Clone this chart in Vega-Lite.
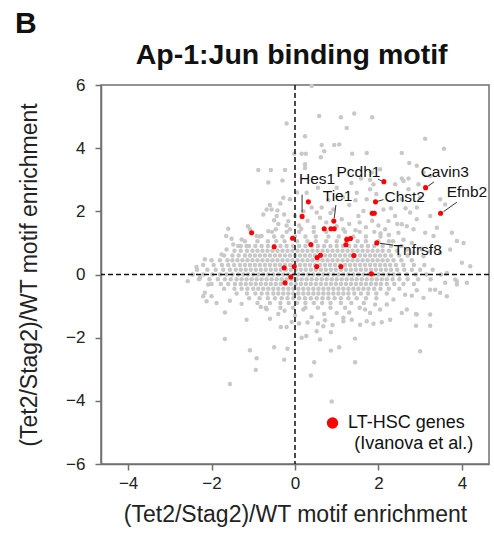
{
"$schema":"https://vega.github.io/schema/vega-lite/v6.json",
"width":388,"height":379,
"autosize":{"type":"none"},
"padding":{"left":101,"top":85,"right":5,"bottom":75},
"background":"white",
"data":{"values":[{}]},
"config":{"view":{"stroke":"#707070","strokeWidth":1.5},
"axis":{"grid":false,"domainColor":"#707070","domainWidth":1.5,"tickColor":"#707070","tickWidth":1.5,"tickSize":6,"labelFont":"Liberation Sans","labelFontSize":17,"labelColor":"#222222","titleFont":"Liberation Sans","titleFontSize":23,"titleFontWeight":"normal","titleColor":"#222222"},
"text":{"font":"Liberation Sans"}},
"datasets":{
"gray":[
{"x":-0.55,"y":1.35},{"x":-0.2,"y":1.35},{"x":0.1,"y":1.35},{"x":0.45,"y":1.35},{"x":0.75,"y":1.35},{"x":1.2,"y":1.35},{"x":1.55,"y":1.35},{"x":1.9,"y":1.35},
{"x":-0.85,"y":1.2},{"x":-0.5,"y":1.2},{"x":-0.3,"y":1.2},{"x":0.0,"y":1.2},{"x":0.25,"y":1.2},{"x":0.5,"y":1.2},{"x":0.8,"y":1.2},{"x":1.05,"y":1.2},{"x":1.4,"y":1.2},{"x":1.7,"y":1.2},{"x":2.05,"y":1.2},
{"x":-1.2,"y":1.05},{"x":-0.9,"y":1.05},{"x":-0.65,"y":1.05},{"x":-0.45,"y":1.05},{"x":-0.25,"y":1.05},{"x":0.05,"y":1.05},{"x":0.3,"y":1.05},{"x":0.5,"y":1.05},{"x":0.75,"y":1.05},{"x":1.0,"y":1.05},{"x":1.25,"y":1.05},{"x":1.5,"y":1.05},{"x":1.7,"y":1.05},{"x":2.0,"y":1.05},{"x":2.25,"y":1.05},
{"x":-1.3,"y":0.9},{"x":-1.1,"y":0.9},{"x":-0.95,"y":0.9},{"x":-0.8,"y":0.9},{"x":-0.65,"y":0.9},{"x":-0.5,"y":0.9},{"x":-0.35,"y":0.9},{"x":-0.2,"y":0.9},{"x":-0.05,"y":0.9},{"x":0.1,"y":0.9},{"x":0.25,"y":0.9},{"x":0.4,"y":0.9},{"x":0.55,"y":0.9},{"x":0.7,"y":0.9},{"x":0.85,"y":0.9},{"x":1.0,"y":0.9},{"x":1.15,"y":0.9},{"x":1.3,"y":0.9},{"x":1.45,"y":0.9},{"x":1.6,"y":0.9},{"x":1.75,"y":0.9},{"x":1.9,"y":0.9},{"x":2.1,"y":0.9},{"x":2.3,"y":0.9},
{"x":-1.45,"y":0.75},{"x":-1.3,"y":0.75},{"x":-1.15,"y":0.75},{"x":-1.02,"y":0.75},{"x":-0.9,"y":0.75},{"x":-0.78,"y":0.75},{"x":-0.66,"y":0.75},{"x":-0.54,"y":0.75},{"x":-0.42,"y":0.75},{"x":-0.3,"y":0.75},{"x":-0.18,"y":0.75},{"x":-0.06,"y":0.75},{"x":0.06,"y":0.75},{"x":0.18,"y":0.75},{"x":0.3,"y":0.75},{"x":0.42,"y":0.75},{"x":0.54,"y":0.75},{"x":0.66,"y":0.75},{"x":0.78,"y":0.75},{"x":0.9,"y":0.75},{"x":1.02,"y":0.75},{"x":1.14,"y":0.75},{"x":1.26,"y":0.75},{"x":1.38,"y":0.75},{"x":1.5,"y":0.75},{"x":1.62,"y":0.75},{"x":1.74,"y":0.75},{"x":1.86,"y":0.75},{"x":1.98,"y":0.75},{"x":2.1,"y":0.75},{"x":2.25,"y":0.75},{"x":2.45,"y":0.75},
{"x":-1.7,"y":0.6},{"x":-1.5,"y":0.6},{"x":-1.35,"y":0.6},{"x":-1.2,"y":0.6},{"x":-1.08,"y":0.6},{"x":-0.96,"y":0.6},{"x":-0.84,"y":0.6},{"x":-0.72,"y":0.6},{"x":-0.6,"y":0.6},{"x":-0.48,"y":0.6},{"x":-0.36,"y":0.6},{"x":-0.24,"y":0.6},{"x":-0.12,"y":0.6},{"x":0.0,"y":0.6},{"x":0.12,"y":0.6},{"x":0.24,"y":0.6},{"x":0.36,"y":0.6},{"x":0.48,"y":0.6},{"x":0.6,"y":0.6},{"x":0.72,"y":0.6},{"x":0.84,"y":0.6},{"x":0.96,"y":0.6},{"x":1.08,"y":0.6},{"x":1.2,"y":0.6},{"x":1.32,"y":0.6},{"x":1.44,"y":0.6},{"x":1.56,"y":0.6},{"x":1.68,"y":0.6},{"x":1.8,"y":0.6},{"x":1.92,"y":0.6},{"x":2.04,"y":0.6},{"x":2.16,"y":0.6},{"x":2.3,"y":0.6},{"x":2.5,"y":0.6},{"x":2.7,"y":0.6},
{"x":-2.0,"y":0.45},{"x":-1.8,"y":0.45},{"x":-1.62,"y":0.45},{"x":-1.5,"y":0.45},{"x":-1.38,"y":0.45},{"x":-1.26,"y":0.45},{"x":-1.14,"y":0.45},{"x":-1.02,"y":0.45},{"x":-0.9,"y":0.45},{"x":-0.78,"y":0.45},{"x":-0.66,"y":0.45},{"x":-0.54,"y":0.45},{"x":-0.42,"y":0.45},{"x":-0.3,"y":0.45},{"x":-0.18,"y":0.45},{"x":-0.06,"y":0.45},{"x":0.06,"y":0.45},{"x":0.18,"y":0.45},{"x":0.3,"y":0.45},{"x":0.42,"y":0.45},{"x":0.54,"y":0.45},{"x":0.66,"y":0.45},{"x":0.78,"y":0.45},{"x":0.9,"y":0.45},{"x":1.02,"y":0.45},{"x":1.14,"y":0.45},{"x":1.26,"y":0.45},{"x":1.38,"y":0.45},{"x":1.5,"y":0.45},{"x":1.62,"y":0.45},{"x":1.74,"y":0.45},{"x":1.86,"y":0.45},{"x":1.98,"y":0.45},{"x":2.1,"y":0.45},{"x":2.22,"y":0.45},{"x":2.36,"y":0.45},{"x":2.55,"y":0.45},{"x":2.8,"y":0.45},
{"x":-2.2,"y":0.3},{"x":-1.95,"y":0.3},{"x":-1.75,"y":0.3},{"x":-1.6,"y":0.3},{"x":-1.46,"y":0.3},{"x":-1.32,"y":0.3},{"x":-1.2,"y":0.3},{"x":-1.08,"y":0.3},{"x":-0.96,"y":0.3},{"x":-0.84,"y":0.3},{"x":-0.72,"y":0.3},{"x":-0.6,"y":0.3},{"x":-0.48,"y":0.3},{"x":-0.36,"y":0.3},{"x":-0.24,"y":0.3},{"x":-0.12,"y":0.3},{"x":0.0,"y":0.3},{"x":0.12,"y":0.3},{"x":0.24,"y":0.3},{"x":0.36,"y":0.3},{"x":0.48,"y":0.3},{"x":0.6,"y":0.3},{"x":0.72,"y":0.3},{"x":0.84,"y":0.3},{"x":0.96,"y":0.3},{"x":1.08,"y":0.3},{"x":1.2,"y":0.3},{"x":1.32,"y":0.3},{"x":1.44,"y":0.3},{"x":1.56,"y":0.3},{"x":1.68,"y":0.3},{"x":1.8,"y":0.3},{"x":1.92,"y":0.3},{"x":2.04,"y":0.3},{"x":2.16,"y":0.3},{"x":2.28,"y":0.3},{"x":2.42,"y":0.3},{"x":2.6,"y":0.3},{"x":2.85,"y":0.3},{"x":3.1,"y":0.3},
{"x":-2.35,"y":0.15},{"x":-2.1,"y":0.15},{"x":-1.9,"y":0.15},{"x":-1.72,"y":0.15},{"x":-1.56,"y":0.15},{"x":-1.42,"y":0.15},{"x":-1.3,"y":0.15},{"x":-1.18,"y":0.15},{"x":-1.06,"y":0.15},{"x":-0.94,"y":0.15},{"x":-0.82,"y":0.15},{"x":-0.7,"y":0.15},{"x":-0.58,"y":0.15},{"x":-0.46,"y":0.15},{"x":-0.34,"y":0.15},{"x":-0.22,"y":0.15},{"x":-0.1,"y":0.15},{"x":0.02,"y":0.15},{"x":0.14,"y":0.15},{"x":0.26,"y":0.15},{"x":0.38,"y":0.15},{"x":0.5,"y":0.15},{"x":0.62,"y":0.15},{"x":0.74,"y":0.15},{"x":0.86,"y":0.15},{"x":0.98,"y":0.15},{"x":1.1,"y":0.15},{"x":1.22,"y":0.15},{"x":1.34,"y":0.15},{"x":1.46,"y":0.15},{"x":1.58,"y":0.15},{"x":1.7,"y":0.15},{"x":1.82,"y":0.15},{"x":1.94,"y":0.15},{"x":2.06,"y":0.15},{"x":2.18,"y":0.15},{"x":2.3,"y":0.15},{"x":2.45,"y":0.15},{"x":2.62,"y":0.15},{"x":2.8,"y":0.15},{"x":3.0,"y":0.15},{"x":3.3,"y":0.15},
{"x":-2.45,"y":0.0},{"x":-2.2,"y":0.0},{"x":-1.98,"y":0.0},{"x":-1.8,"y":0.0},{"x":-1.64,"y":0.0},{"x":-1.5,"y":0.0},{"x":-1.36,"y":0.0},{"x":-1.24,"y":0.0},{"x":-1.12,"y":0.0},{"x":-1.0,"y":0.0},{"x":-0.88,"y":0.0},{"x":-0.76,"y":0.0},{"x":-0.64,"y":0.0},{"x":-0.52,"y":0.0},{"x":-0.4,"y":0.0},{"x":-0.28,"y":0.0},{"x":-0.16,"y":0.0},{"x":-0.04,"y":0.0},{"x":0.08,"y":0.0},{"x":0.2,"y":0.0},{"x":0.32,"y":0.0},{"x":0.44,"y":0.0},{"x":0.56,"y":0.0},{"x":0.68,"y":0.0},{"x":0.8,"y":0.0},{"x":0.92,"y":0.0},{"x":1.04,"y":0.0},{"x":1.16,"y":0.0},{"x":1.28,"y":0.0},{"x":1.4,"y":0.0},{"x":1.52,"y":0.0},{"x":1.64,"y":0.0},{"x":1.76,"y":0.0},{"x":1.88,"y":0.0},{"x":2.0,"y":0.0},{"x":2.12,"y":0.0},{"x":2.24,"y":0.0},{"x":2.36,"y":0.0},{"x":2.5,"y":0.0},{"x":2.68,"y":0.0},{"x":2.9,"y":0.0},{"x":3.15,"y":0.0},{"x":3.5,"y":0.0},
{"x":-2.3,"y":-0.15},{"x":-2.05,"y":-0.15},{"x":-1.85,"y":-0.15},{"x":-1.68,"y":-0.15},{"x":-1.54,"y":-0.15},{"x":-1.4,"y":-0.15},{"x":-1.28,"y":-0.15},{"x":-1.16,"y":-0.15},{"x":-1.04,"y":-0.15},{"x":-0.92,"y":-0.15},{"x":-0.8,"y":-0.15},{"x":-0.68,"y":-0.15},{"x":-0.56,"y":-0.15},{"x":-0.44,"y":-0.15},{"x":-0.32,"y":-0.15},{"x":-0.2,"y":-0.15},{"x":-0.08,"y":-0.15},{"x":0.04,"y":-0.15},{"x":0.16,"y":-0.15},{"x":0.28,"y":-0.15},{"x":0.4,"y":-0.15},{"x":0.52,"y":-0.15},{"x":0.64,"y":-0.15},{"x":0.76,"y":-0.15},{"x":0.88,"y":-0.15},{"x":1.0,"y":-0.15},{"x":1.12,"y":-0.15},{"x":1.24,"y":-0.15},{"x":1.36,"y":-0.15},{"x":1.48,"y":-0.15},{"x":1.6,"y":-0.15},{"x":1.72,"y":-0.15},{"x":1.84,"y":-0.15},{"x":1.96,"y":-0.15},{"x":2.08,"y":-0.15},{"x":2.2,"y":-0.15},{"x":2.34,"y":-0.15},{"x":2.5,"y":-0.15},{"x":2.7,"y":-0.15},{"x":2.95,"y":-0.15},{"x":3.25,"y":-0.15},
{"x":-2.0,"y":-0.3},{"x":-1.78,"y":-0.3},{"x":-1.6,"y":-0.3},{"x":-1.44,"y":-0.3},{"x":-1.3,"y":-0.3},{"x":-1.18,"y":-0.3},{"x":-1.06,"y":-0.3},{"x":-0.94,"y":-0.3},{"x":-0.82,"y":-0.3},{"x":-0.7,"y":-0.3},{"x":-0.58,"y":-0.3},{"x":-0.46,"y":-0.3},{"x":-0.34,"y":-0.3},{"x":-0.22,"y":-0.3},{"x":-0.1,"y":-0.3},{"x":0.02,"y":-0.3},{"x":0.14,"y":-0.3},{"x":0.26,"y":-0.3},{"x":0.38,"y":-0.3},{"x":0.5,"y":-0.3},{"x":0.62,"y":-0.3},{"x":0.74,"y":-0.3},{"x":0.86,"y":-0.3},{"x":0.98,"y":-0.3},{"x":1.1,"y":-0.3},{"x":1.22,"y":-0.3},{"x":1.34,"y":-0.3},{"x":1.46,"y":-0.3},{"x":1.58,"y":-0.3},{"x":1.7,"y":-0.3},{"x":1.82,"y":-0.3},{"x":1.94,"y":-0.3},{"x":2.06,"y":-0.3},{"x":2.2,"y":-0.3},{"x":2.38,"y":-0.3},{"x":2.6,"y":-0.3},{"x":2.85,"y":-0.3},
{"x":-1.7,"y":-0.45},{"x":-1.45,"y":-0.45},{"x":-1.28,"y":-0.45},{"x":-1.14,"y":-0.45},{"x":-1.0,"y":-0.45},{"x":-0.88,"y":-0.45},{"x":-0.76,"y":-0.45},{"x":-0.64,"y":-0.45},{"x":-0.52,"y":-0.45},{"x":-0.4,"y":-0.45},{"x":-0.28,"y":-0.45},{"x":-0.16,"y":-0.45},{"x":-0.04,"y":-0.45},{"x":0.08,"y":-0.45},{"x":0.2,"y":-0.45},{"x":0.32,"y":-0.45},{"x":0.44,"y":-0.45},{"x":0.56,"y":-0.45},{"x":0.68,"y":-0.45},{"x":0.8,"y":-0.45},{"x":0.92,"y":-0.45},{"x":1.04,"y":-0.45},{"x":1.16,"y":-0.45},{"x":1.28,"y":-0.45},{"x":1.4,"y":-0.45},{"x":1.52,"y":-0.45},{"x":1.64,"y":-0.45},{"x":1.76,"y":-0.45},{"x":1.9,"y":-0.45},{"x":2.05,"y":-0.45},{"x":2.25,"y":-0.45},{"x":2.5,"y":-0.45},
{"x":-1.4,"y":-0.6},{"x":-1.15,"y":-0.6},{"x":-0.95,"y":-0.6},{"x":-0.8,"y":-0.6},{"x":-0.66,"y":-0.6},{"x":-0.52,"y":-0.6},{"x":-0.4,"y":-0.6},{"x":-0.28,"y":-0.6},{"x":-0.16,"y":-0.6},{"x":-0.04,"y":-0.6},{"x":0.08,"y":-0.6},{"x":0.2,"y":-0.6},{"x":0.32,"y":-0.6},{"x":0.44,"y":-0.6},{"x":0.56,"y":-0.6},{"x":0.68,"y":-0.6},{"x":0.8,"y":-0.6},{"x":0.92,"y":-0.6},{"x":1.04,"y":-0.6},{"x":1.16,"y":-0.6},{"x":1.28,"y":-0.6},{"x":1.42,"y":-0.6},{"x":1.58,"y":-0.6},{"x":1.75,"y":-0.6},{"x":1.95,"y":-0.6},{"x":2.2,"y":-0.6},
{"x":-1.1,"y":-0.75},{"x":-0.85,"y":-0.75},{"x":-0.65,"y":-0.75},{"x":-0.48,"y":-0.75},{"x":-0.32,"y":-0.75},{"x":-0.18,"y":-0.75},{"x":-0.04,"y":-0.75},{"x":0.1,"y":-0.75},{"x":0.24,"y":-0.75},{"x":0.38,"y":-0.75},{"x":0.52,"y":-0.75},{"x":0.66,"y":-0.75},{"x":0.8,"y":-0.75},{"x":0.95,"y":-0.75},{"x":1.1,"y":-0.75},{"x":1.28,"y":-0.75},{"x":1.48,"y":-0.75},{"x":1.7,"y":-0.75},{"x":1.95,"y":-0.75},
{"x":-0.9,"y":-0.9},{"x":-0.6,"y":-0.9},{"x":-0.35,"y":-0.9},{"x":-0.15,"y":-0.9},{"x":0.05,"y":-0.9},{"x":0.25,"y":-0.9},{"x":0.45,"y":-0.9},{"x":0.65,"y":-0.9},{"x":0.85,"y":-0.9},{"x":1.1,"y":-0.9},{"x":1.35,"y":-0.9},{"x":1.65,"y":-0.9},
{"x":-0.7,"y":-1.05},{"x":-0.35,"y":-1.05},{"x":-0.05,"y":-1.05},{"x":0.25,"y":-1.05},{"x":0.55,"y":-1.05},{"x":0.85,"y":-1.05},{"x":1.2,"y":-1.05},{"x":1.55,"y":-1.05},
{"x":0.4,"y":5.97},{"x":0.58,"y":5.02},{"x":1.1,"y":4.98},{"x":1.42,"y":5.1},{"x":1.85,"y":4.98},{"x":1.24,"y":4.64},{"x":0.24,"y":4.38},{"x":0.64,"y":4.1},{"x":0.94,"y":4.1},{"x":1.06,"y":4.12},{"x":0.7,"y":3.9},{"x":0.16,"y":3.82},{"x":0.26,"y":3.82},{"x":0.62,"y":3.71},{"x":1.37,"y":3.82},{"x":1.72,"y":3.85},{"x":2.56,"y":3.85},{"x":3.12,"y":4.3},{"x":3.57,"y":3.98},{"x":2.74,"y":3.53},{"x":-0.02,"y":3.82},{"x":0.24,"y":3.37},{"x":2.56,"y":3.04},{"x":2.72,"y":3.04},{"x":1.58,"y":3.04},{"x":1.8,"y":3.0},
{"x":-0.2,"y":4.78},{"x":-0.88,"y":3.31},{"x":-0.58,"y":3.31},{"x":-0.24,"y":3.31},{"x":-0.64,"y":2.91},{"x":-0.3,"y":2.98},{"x":0.24,"y":3.49},
{"x":-0.12,"y":2.38},{"x":-0.28,"y":2.43},{"x":-0.68,"y":2.06},{"x":-0.56,"y":2.06},{"x":-0.42,"y":2.03},{"x":-0.76,"y":1.9},{"x":-0.44,"y":1.85},{"x":-0.26,"y":1.9},{"x":-0.16,"y":1.69},{"x":-0.12,"y":1.43},
{"x":0.28,"y":2.59},{"x":0.4,"y":2.12},{"x":0.52,"y":1.96},{"x":0.64,"y":2.12},{"x":0.92,"y":2.06},{"x":1.0,"y":1.53},{"x":1.16,"y":1.43},{"x":1.12,"y":1.75},{"x":1.24,"y":1.16},
{"x":-1.08,"y":1.43},{"x":-1.6,"y":1.45},{"x":-1.52,"y":1.13},{"x":-1.28,"y":1.11},{"x":-1.16,"y":0.9},{"x":-1.36,"y":0.9},{"x":-1.48,"y":0.95},{"x":-0.92,"y":1.22},{"x":-0.8,"y":1.22},{"x":-0.64,"y":1.37},{"x":-0.46,"y":1.43},{"x":-1.65,"y":1.22},{"x":-1.13,"y":1.53},
{"x":-0.6,"y":2.2},{"x":-0.35,"y":2.25},{"x":-0.5,"y":1.72},
{"x":1.8,"y":2.7},{"x":1.88,"y":2.86},{"x":1.48,"y":2.59},{"x":1.72,"y":2.38},{"x":1.64,"y":2.01},{"x":1.52,"y":1.85},{"x":2.12,"y":2.06},{"x":2.24,"y":1.69},{"x":2.16,"y":1.43},{"x":2.4,"y":1.85},{"x":2.56,"y":1.59},{"x":2.68,"y":1.53},{"x":2.84,"y":1.43},{"x":2.48,"y":1.32},{"x":2.56,"y":2.38},{"x":2.72,"y":2.7},{"x":2.6,"y":2.96},{"x":2.4,"y":2.86},{"x":2.96,"y":2.86},{"x":3.0,"y":2.43},{"x":2.92,"y":2.12},{"x":3.48,"y":2.38},{"x":3.6,"y":2.22},{"x":3.24,"y":1.85},{"x":3.4,"y":1.48},{"x":3.32,"y":1.22},{"x":3.12,"y":1.32},{"x":3.76,"y":1.32},{"x":3.88,"y":1.06},{"x":4.04,"y":1.0},{"x":3.72,"y":0.79},{"x":3.48,"y":0.69},{"x":3.24,"y":0.74},{"x":3.08,"y":0.58},{"x":4.0,"y":0.37},{"x":4.2,"y":0.26},{"x":3.64,"y":0.05},{"x":3.88,"y":-0.21},{"x":4.12,"y":-0.26},{"x":3.48,"y":-0.58},{"x":3.64,"y":-0.69},{"x":3.24,"y":-0.48},{"x":3.08,"y":-0.74},{"x":2.68,"y":-1.11},{"x":2.92,"y":-1.27},{"x":3.24,"y":-1.27},{"x":2.2,"y":-0.95},{"x":2.04,"y":-1.11},
{"x":2.92,"y":3.44},{"x":3.08,"y":3.23},{"x":3.24,"y":3.12},{"x":2.04,"y":3.33},{"x":1.84,"y":3.23},{"x":2.76,"y":1.96},{"x":2.92,"y":1.75},{"x":3.04,"y":0.79},{"x":2.84,"y":0.69},{"x":2.68,"y":0.79},
{"x":0.1,"y":1.55},{"x":0.3,"y":1.7},{"x":0.45,"y":1.5},{"x":0.6,"y":1.8},{"x":0.75,"y":1.65},{"x":0.85,"y":1.95},{"x":1.3,"y":1.6},{"x":1.45,"y":1.4},{"x":1.55,"y":1.65},{"x":1.7,"y":1.5},{"x":1.85,"y":1.7},{"x":2.0,"y":1.55},{"x":0.2,"y":2.0},{"x":1.3,"y":2.2},{"x":1.45,"y":2.35},{"x":1.15,"y":2.45},{"x":0.8,"y":2.35},{"x":0.05,"y":2.6},{"x":0.55,"y":2.75},{"x":1.0,"y":2.75},{"x":1.35,"y":2.9},{"x":-0.2,"y":1.55},{"x":-0.4,"y":1.6},{"x":0.0,"y":1.85},{"x":0.15,"y":1.45},{"x":1.95,"y":2.55},{"x":2.3,"y":2.1},{"x":2.05,"y":1.3},{"x":2.25,"y":1.25},{"x":2.35,"y":1.05},{"x":2.6,"y":1.1},{"x":2.8,"y":1.0},{"x":2.55,"y":0.9},{"x":2.45,"y":1.6},{"x":2.65,"y":2.1},
{"x":-2.57,"y":-0.21},{"x":-2.2,"y":-0.69},{"x":-2.08,"y":-0.32},{"x":-1.68,"y":-1.2},{"x":-1.56,"y":-0.83},{"x":-1.28,"y":-0.93},{"x":-1.16,"y":-1.43},{"x":-1.68,"y":-2.04},{"x":-1.08,"y":-2.4},{"x":-0.92,"y":-2.65},{"x":-0.94,"y":-3.02},{"x":-1.56,"y":-3.47},{"x":-0.5,"y":-2.3},{"x":-0.26,"y":-2.7},{"x":-0.18,"y":-2.35},{"x":-0.34,"y":-1.66},{"x":-0.2,"y":-1.66},{"x":-0.82,"y":-1.03},{"x":-0.68,"y":-1.1},{"x":-0.08,"y":-1.5},
{"x":0.88,"y":-4.02},{"x":0.38,"y":-3.2},{"x":0.46,"y":-2.78},{"x":1.44,"y":-2.78},{"x":0.86,"y":-2.41},{"x":1.06,"y":-2.3},{"x":3.0,"y":-2.43},{"x":0.16,"y":-2.0},{"x":0.27,"y":-1.95},{"x":0.6,"y":-2.06},{"x":1.44,"y":-2.03},{"x":0.86,"y":-1.83},{"x":0.52,"y":-1.8},{"x":0.68,"y":-1.64},
{"x":1.16,"y":-1.48},{"x":1.36,"y":-1.43},{"x":1.56,"y":-1.59},{"x":1.72,"y":-1.48},{"x":1.88,"y":-1.56},{"x":2.08,"y":-1.51},{"x":2.28,"y":-1.43},{"x":2.9,"y":-1.62},{"x":3.24,"y":-1.62},{"x":2.56,"y":-1.22},{"x":2.9,"y":-1.25},
{"x":2.64,"y":-0.64},{"x":2.8,"y":-0.67},{"x":2.92,"y":-0.5},{"x":3.36,"y":-0.48},{"x":3.6,"y":-0.26},{"x":3.88,"y":-0.32},{"x":3.84,"y":-0.16},{"x":2.36,"y":-0.79},{"x":1.92,"y":-0.95},{"x":1.68,"y":-1.11},{"x":1.8,"y":-1.22},
{"x":-2.36,"y":0.24},{"x":-2.16,"y":0.48},{"x":-2.16,"y":-0.58},{"x":-2.0,"y":-0.69},{"x":-1.88,"y":-0.9},{"x":-2.12,"y":-0.85},{"x":-1.64,"y":0.79},{"x":-1.76,"y":0.63},{"x":-2.28,"y":-0.1},
{"x":1.0,"y":-1.22},{"x":1.16,"y":-1.37},{"x":0.2,"y":-1.11},{"x":-0.4,"y":-1.25},{"x":0.0,"y":-1.3},{"x":0.4,"y":-1.35},{"x":0.7,"y":-1.25},{"x":1.3,"y":-1.2},{"x":-0.6,"y":-1.4},{"x":0.55,"y":-1.55},{"x":0.9,"y":-1.6},{"x":-0.25,"y":-1.15},{"x":0.1,"y":-1.55},{"x":0.3,"y":-1.52},{"x":0.72,"y":-1.45}
],
"red":[
{"x":-1.04,"y":1.32},{"x":-0.5,"y":0.88},{"x":-0.06,"y":1.15},{"x":-0.26,"y":0.21},{"x":-0.02,"y":0.25},{"x":-0.1,"y":-0.08},{"x":-0.24,"y":-0.26},{"x":0.52,"y":0.25},{"x":1.1,"y":0.25},{"x":1.41,"y":0.6},{"x":0.38,"y":0.95},{"x":0.53,"y":0.54},{"x":0.61,"y":0.61},{"x":1.22,"y":0.94},{"x":1.24,"y":1.11},{"x":1.33,"y":1.14},{"x":1.96,"y":1.0},{"x":1.83,"y":0.02},{"x":0.7,"y":1.45},{"x":0.86,"y":1.45},{"x":0.94,"y":1.45},{"x":0.93,"y":1.69},{"x":0.17,"y":1.84},{"x":0.32,"y":2.3},{"x":1.85,"y":1.94},{"x":1.9,"y":1.94},{"x":1.93,"y":2.3},{"x":2.13,"y":2.94},{"x":3.13,"y":2.75},{"x":3.49,"y":1.94}
],
"labels":[
{"gene":"Hes1","sx":0.17,"sy":1.97,"ex":0.17,"ey":2.53,"tx":0.53,"ty":3.02},
{"gene":"Tie1","sx":0.94,"sy":1.78,"ex":0.98,"ey":2.2,"tx":1.02,"ty":2.49},
{"gene":"Pcdh1","sx":2.08,"sy":2.96,"ex":1.99,"ey":3.02,"tx":1.52,"ty":3.25},
{"gene":"Chst2","sx":1.99,"sy":2.32,"ex":2.12,"ey":2.37,"tx":2.63,"ty":2.46},
{"gene":"Cavin3","sx":3.19,"sy":2.8,"ex":3.33,"ey":2.93,"tx":3.59,"ty":3.25},
{"gene":"Efnb2","sx":3.56,"sy":1.99,"ex":3.88,"ey":2.29,"tx":4.12,"ty":2.62},
{"gene":"Tnfrsf8","sx":2.03,"sy":0.99,"ex":2.35,"ey":0.93,"tx":2.94,"ty":0.78}
]},
"layer":[
{"data":{"name":"gray"},"mark":{"type":"circle","color":"#c8c8c8","size":20,"opacity":1},
"encoding":{
"x":{"field":"x","type":"quantitative","scale":{"domain":[-4.65,4.65],"nice":false,"zero":false},"axis":{"values":[-4,-2,0,2,4],"title":"(Tet2/Stag2)/WT motif enrichment","labelPadding":5,"titlePadding":12}},
"y":{"field":"y","type":"quantitative","scale":{"domain":[-6,6],"nice":false,"zero":false},"axis":{"values":[-6,-4,-2,0,2,4,6],"title":"(Tet2/Stag2)/WT motif enrichment","labelPadding":10,"titlePadding":24}}}},
{"mark":{"type":"rule","color":"#111111","strokeWidth":1.5,"strokeDash":[5,3]},
"encoding":{"x":{"datum":0,"type":"quantitative","scale":{"domain":[-4.65,4.65],"nice":false,"zero":false}}}},
{"mark":{"type":"rule","color":"#111111","strokeWidth":1.5,"strokeDash":[5,3]},
"encoding":{"y":{"datum":0,"type":"quantitative","scale":{"domain":[-6,6],"nice":false,"zero":false}}}},
{"data":{"name":"labels"},"mark":{"type":"rule","color":"#333333","strokeWidth":1},
"encoding":{"x":{"field":"sx","type":"quantitative","scale":{"domain":[-4.65,4.65],"nice":false,"zero":false}},"y":{"field":"sy","type":"quantitative","scale":{"domain":[-6,6],"nice":false,"zero":false}},"x2":{"field":"ex"},"y2":{"field":"ey"}}},
{"data":{"name":"red"},"mark":{"type":"circle","color":"#ff0000","size":26,"opacity":1},
"encoding":{"x":{"field":"x","type":"quantitative","scale":{"domain":[-4.65,4.65],"nice":false,"zero":false}},"y":{"field":"y","type":"quantitative","scale":{"domain":[-6,6],"nice":false,"zero":false}}}},
{"data":{"name":"labels"},"mark":{"type":"text","fontSize":15.5,"color":"#111111","align":"center","baseline":"middle"},
"encoding":{"x":{"field":"tx","type":"quantitative","scale":{"domain":[-4.65,4.65],"nice":false,"zero":false}},"y":{"field":"ty","type":"quantitative","scale":{"domain":[-6,6],"nice":false,"zero":false}},"text":{"field":"gene"}}},
{"mark":{"type":"circle","color":"#ff0000","size":130,"opacity":1},
"encoding":{"x":{"datum":0.9,"type":"quantitative","scale":{"domain":[-4.65,4.65],"nice":false,"zero":false}},"y":{"datum":-4.7,"type":"quantitative","scale":{"domain":[-6,6],"nice":false,"zero":false}}}},
{"mark":{"type":"text","fontSize":18,"color":"#111111","align":"left","baseline":"middle","text":"LT-HSC genes"},
"encoding":{"x":{"datum":1.27,"type":"quantitative","scale":{"domain":[-4.65,4.65],"nice":false,"zero":false}},"y":{"datum":-4.7,"type":"quantitative","scale":{"domain":[-6,6],"nice":false,"zero":false}}}},
{"mark":{"type":"text","fontSize":18,"color":"#111111","align":"left","baseline":"middle","text":"(Ivanova et al.)"},
"encoding":{"x":{"datum":1.42,"type":"quantitative","scale":{"domain":[-4.65,4.65],"nice":false,"zero":false}},"y":{"datum":-5.37,"type":"quantitative","scale":{"domain":[-6,6],"nice":false,"zero":false}}}},
{"mark":{"type":"text","fontSize":28.5,"fontWeight":"bold","color":"#111111","align":"center","baseline":"alphabetic","text":"Ap-1:Jun binding motif"},
"encoding":{"x":{"datum":-0.08,"type":"quantitative","scale":{"domain":[-4.65,4.65],"nice":false,"zero":false}},"y":{"datum":6.66,"type":"quantitative","scale":{"domain":[-6,6],"nice":false,"zero":false}}}},
{"mark":{"type":"text","fontSize":30,"fontWeight":"bold","color":"#111111","align":"left","baseline":"alphabetic","text":"B"},
"encoding":{"x":{"datum":-6.71,"type":"quantitative","scale":{"domain":[-4.65,4.65],"nice":false,"zero":false}},"y":{"datum":7.66,"type":"quantitative","scale":{"domain":[-6,6],"nice":false,"zero":false}}}}
]
}
